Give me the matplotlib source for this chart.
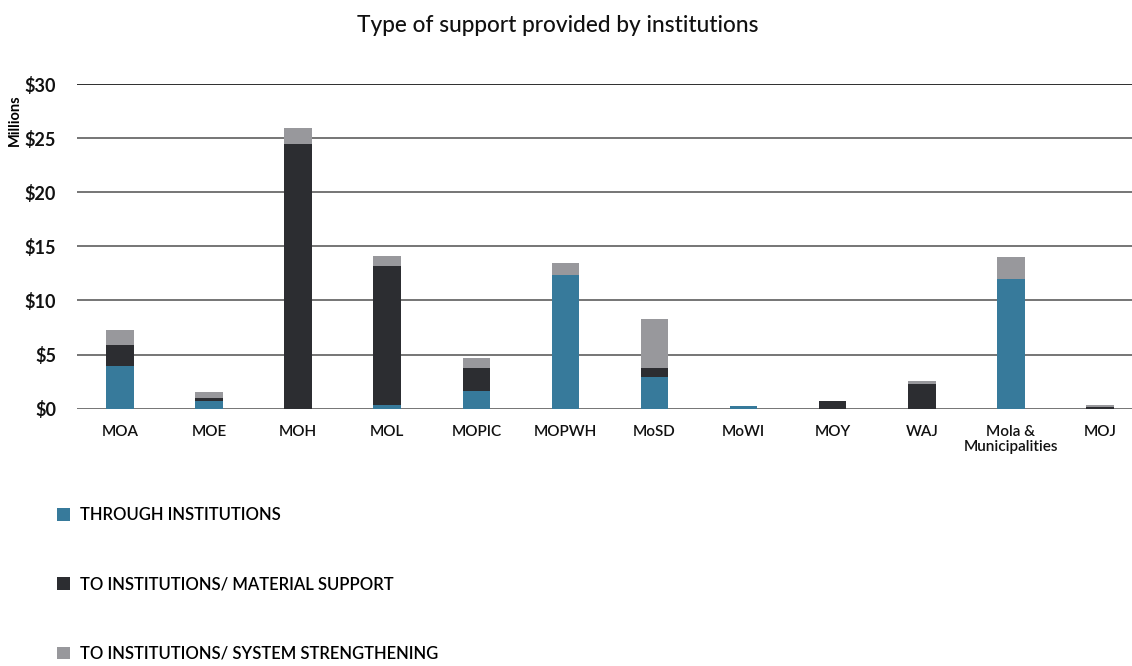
import numpy as np
import matplotlib
matplotlib.use("Agg")
import matplotlib.pyplot as plt

plt.rcParams['font.family'] = ['Lato', 'DejaVu Sans']

categories = ['MOA', 'MOE', 'MOH', 'MOL', 'MOPIC', 'MOPWH', 'MoSD', 'MoWI',
              'MOY', 'WAJ', 'Mola &\nMunicipalities', 'MOJ']
through_inst = [3.9, 0.75, 0.0, 0.35, 1.65, 12.35, 2.95, 0.25, 0.0, 0.0, 12.0, 0.0]
material = [2.0, 0.25, 24.5, 12.85, 2.1, 0.0, 0.8, 0.0, 0.7, 2.3, 0.0, 0.15]
system = [1.4, 0.55, 1.4, 0.9, 0.9, 1.1, 4.5, 0.0, 0.0, 0.3, 2.0, 0.2]
series_names = ['THROUGH INSTITUTIONS', 'TO INSTITUTIONS/ MATERIAL SUPPORT',
                'TO INSTITUTIONS/ SYSTEM STRENGTHENING']
colors = ['#377a9b', '#2c2d31', '#98989c']
yticks = [0, 5, 10, 15, 20, 25, 30]

fig = plt.figure(figsize=(11.32, 6.66), dpi=100)
ax = fig.add_axes([77 / 1132, 257.3 / 666, 1 - 77 / 1132, (582 - 257.3) / 666])

x = np.arange(len(categories))
w = 0.31
b1 = ax.bar(x, through_inst, w, color=colors[0], label=series_names[0], zorder=3)
b2 = ax.bar(x, material, w, bottom=through_inst, color=colors[1],
            label=series_names[1], zorder=3)
bottom2 = np.array(through_inst) + np.array(material)
b3 = ax.bar(x, system, w, bottom=bottom2, color=colors[2],
            label=series_names[2], zorder=3)

ax.set_xlim(-0.483, 11.36)
ax.set_ylim(0, 30)
ax.set_yticks(yticks)
ax.set_yticklabels(['$%d' % v for v in yticks], fontsize=13, fontweight='bold',
                   color='#111111')
ax.set_xticks(x)
ax.set_xticklabels(categories, fontsize=11, fontweight='semibold',
                   color='#111111', linespacing=1.1)
ax.tick_params(axis='both', length=0)
ax.tick_params(axis='y', pad=15)
ax.tick_params(axis='x', pad=12)

for v in yticks:
    c = '#1e1e1e' if v == 30 else '#6a6a6a'
    ax.axhline(v, color=c, lw=1.3, zorder=1)
for s in ax.spines.values():
    s.set_visible(False)

fig.text(15 / 1132, 1 - 120 / 666, 'Millions', rotation=90, fontsize=10.5,
         fontweight='bold', ha='center', va='center')
fig.text(558 / 1132, 1 - 26 / 666, 'Type of support provided by institutions',
         fontsize=16.3, fontweight='medium', ha='center', va='center',
         color='#111111')

leg = fig.legend(handles=[b1, b2, b3], loc='upper left',
                 bbox_to_anchor=(42 / 1132, 1 - 492 / 666), frameon=False,
                 prop={'size': 12, 'weight': 'semibold'},
                 handlelength=0.8, handleheight=0.8,
                 handletextpad=0.6, labelspacing=3.2)

fig.savefig('out.png', dpi=100)
